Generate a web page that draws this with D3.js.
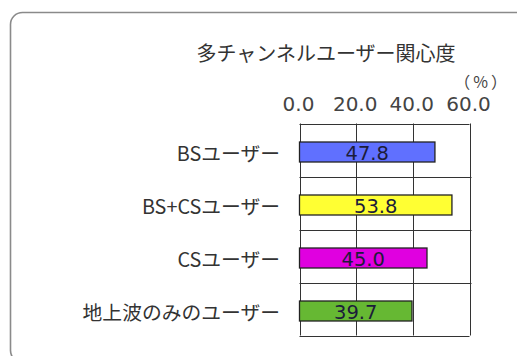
<!DOCTYPE html>
<html>
<head>
<meta charset="utf-8">
<script src="https://cdn.jsdelivr.net/npm/d3@7"></script>
<style>
  html, body { margin: 0; padding: 0; background: #fff; }
  svg { display: block; }
</style>
</head>
<body>
<svg id="chart" width="517" height="356"></svg>
<script>
// Chart data
const title = "多チャンネルユーザー関心度";
const unitLabel = "（%）";
const categories = ["BSユーザー", "BS+CSユーザー", "CSユーザー", "地上波のみのユーザー"];
const values = [47.8, 53.8, 45.0, 39.7];
const barColors = ["#6070ff", "#ffff33", "#e000e0", "#66b833"];
const tickValues = [0, 20, 40, 60];
const tickLabels = ["0.0", "20.0", "40.0", "60.0"];

const svg = d3.select("#chart");
const jp = "'Noto Sans CJK JP', 'Noto Sans', sans-serif";
const num = "'DejaVu Sans', Verdana, sans-serif";

// Rounded frame around the whole panel
svg.append("rect")
  .attr("x", 10.5).attr("y", 12.5)
  .attr("width", 520).attr("height", 350)
  .attr("rx", 12).attr("ry", 12)
  .attr("fill", "none")
  .attr("stroke", "#8a8a8a")
  .attr("stroke-width", 1.6);

const x = d3.scaleLinear().domain([0, 60]).range([299.5, 469.5]);
const y = d3.scaleBand().domain(categories).range([123.5, 335.5]);

// Title and unit
svg.append("text")
  .attr("x", 326).attr("y", 61)
  .attr("text-anchor", "middle")
  .attr("font-family", jp)
  .attr("font-size", 20)
  .attr("fill", "#333")
  .text(title);

svg.append("text")
  .attr("x", 510).attr("y", 88)
  .attr("text-anchor", "end")
  .attr("font-family", jp)
  .attr("font-size", 16)
  .attr("letter-spacing", 3)
  .attr("fill", "#444")
  .text(unitLabel);

// Top axis labels
const xAxis = d3.axisTop(x)
  .tickValues(tickValues)
  .tickFormat((d, i) => tickLabels[i])
  .tickSize(0)
  .tickPadding(0);

const axisG = svg.append("g")
  .attr("transform", "translate(-1.5,111)")
  .call(xAxis);
axisG.select(".domain").remove();
axisG.selectAll("text")
  .attr("font-family", num)
  .attr("font-size", 20)
  .attr("fill", "#444")
  .attr("dy", 0);

// Grid: vertical lines at tick values, horizontal lines at band edges
const grid = svg.append("g").attr("stroke", "#333").attr("stroke-width", 1);
grid.selectAll("line.v")
  .data(tickValues)
  .join("line")
  .attr("class", "v")
  .attr("x1", d => Math.round(x(d)) + 0.5)
  .attr("x2", d => Math.round(x(d)) + 0.5)
  .attr("y1", y.range()[0])
  .attr("y2", y.range()[1]);

const edges = categories.map(c => y(c)).concat([y.range()[1]]);
grid.selectAll("line.h")
  .data(edges)
  .join("line")
  .attr("class", "h")
  .attr("x1", x(0))
  .attr("x2", (d, i) => (i === 0 || i === edges.length - 1) ? x(60) : x(60) + 2)
  .attr("y1", d => Math.round(d) + 0.5)
  .attr("y2", d => Math.round(d) + 0.5);

// Bars
const barH = 20;
const barOffset = d => y(d) + (y.bandwidth() - barH) / 2 + 2;

svg.append("g").selectAll("rect")
  .data(categories)
  .join("rect")
  .attr("x", x(0))
  .attr("y", d => barOffset(d))
  .attr("width", (d, i) => x(values[i]) - x(0))
  .attr("height", barH)
  .attr("fill", (d, i) => barColors[i])
  .attr("stroke", "#222")
  .attr("stroke-width", 1.3);

// Value labels centred in bars
svg.append("g").selectAll("text")
  .data(categories)
  .join("text")
  .attr("x", (d, i) => (x(0) + x(values[i])) / 2)
  .attr("y", d => barOffset(d) + barH / 2 + 1)
  .attr("text-anchor", "middle")
  .attr("dominant-baseline", "central")
  .attr("font-family", num)
  .attr("font-size", 19.5)
  .attr("fill", "#1c1c3a")
  .text((d, i) => values[i].toFixed(1));

// Category labels
svg.append("g").selectAll("text")
  .data(categories)
  .join("text")
  .attr("x", 280)
  .attr("y", d => barOffset(d) + barH / 2)
  .attr("text-anchor", "end")
  .attr("dominant-baseline", "central")
  .attr("font-family", jp)
  .attr("font-size", 19.8)
  .attr("fill", "#333")
  .text(d => d);
</script>
</body>
</html>
